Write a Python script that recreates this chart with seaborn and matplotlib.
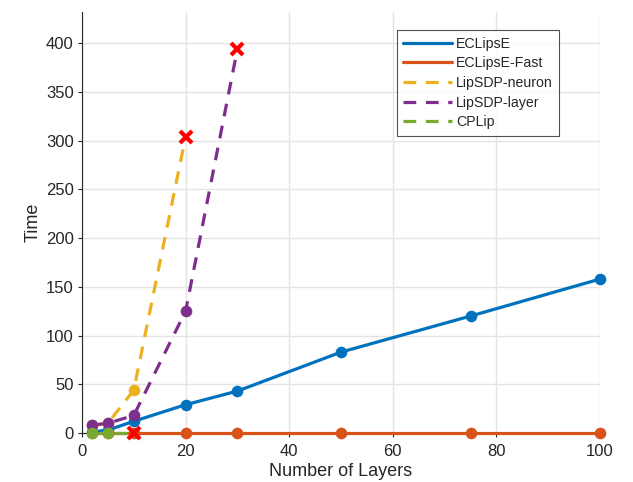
import numpy as np
import pandas as pd
import matplotlib
matplotlib.use("Agg")
import matplotlib.pyplot as plt
import seaborn as sns

# ---- data ----
x_eclipse = [2, 5, 10, 20, 30, 50, 75, 100]
y_eclipse = [1, 3, 12, 29, 43, 83, 120, 158]

x_fast = [2, 5, 10, 20, 30, 50, 75, 100]
y_fast = [0, 0, 0, 0, 0, 0, 0, 0]

x_neuron = [2, 5, 10, 20]
y_neuron = [8, 10, 44, 304]

x_layer = [2, 5, 10, 20, 30]
y_layer = [8, 10, 18, 125, 394]

x_cplip = [2, 5, 10]
y_cplip = [0, 0, 0]

# name, x, y, colour, dashed?, last point is a timeout (red cross)?
series = [
    ("ECLipsE", x_eclipse, y_eclipse, "#0072BD", False, False),
    ("ECLipsE-Fast", x_fast, y_fast, "#D95319", False, False),
    ("LipSDP-neuron", x_neuron, y_neuron, "#EDB120", True, True),
    ("LipSDP-layer", x_layer, y_layer, "#7E2F8E", True, True),
    ("CPLip", x_cplip, y_cplip, "#77AC30", True, True),
]

sns.set_theme(style="whitegrid", rc={"xtick.bottom": True, "ytick.left": True,
                                     "xtick.major.size": 3, "ytick.major.size": 3})
plt.rcParams['font.family'] = ['Liberation Sans', 'DejaVu Sans']

fig = plt.figure(figsize=(6.33, 4.82), dpi=100)
ax = fig.add_axes([0.1295, 0.1017, 0.8185, 0.8733])

for name, xs, ys, col, dashed, timeout in series:
    df = pd.DataFrame({"x": xs, "y": ys})
    sns.lineplot(data=df, x="x", y="y", ax=ax, color=col, lw=2.3,
                 label=name, clip_on=False, zorder=3)
    line = ax.lines[-1]
    if dashed:
        line.set_dashes((4, 3))
    pts = df.iloc[:-1] if timeout else df
    sns.scatterplot(data=pts, x="x", y="y", ax=ax, color=col, s=70,
                    edgecolor=col, linewidth=0, clip_on=False, zorder=4,
                    legend=False)
    if timeout:
        ax.plot(xs[-1], ys[-1], marker="x", color="red", ms=9, mew=3,
                clip_on=False, zorder=6, linestyle="none")

ax.set_xlim(0, 100)
ax.set_ylim(0, 432)
ax.set_xticks(np.arange(0, 101, 20))
ax.set_yticks(np.arange(0, 401, 50))
ax.set_xlabel("Number of Layers", fontsize=13, color="#262626", labelpad=3)
ax.set_ylabel("Time", fontsize=13, color="#262626", labelpad=3)
ax.tick_params(axis="both", labelsize=12, colors="#262626", direction="out",
               length=3, width=0.8, bottom=True, left=True)
ax.tick_params(axis="x", pad=5)
ax.tick_params(axis="y", pad=3)

ax.set_facecolor("white")
ax.grid(True, color="#e4e4e4", lw=1)
for s in ["top", "right"]:
    ax.spines[s].set_visible(False)
for s in ["left", "bottom"]:
    ax.spines[s].set_color("#262626")
    ax.spines[s].set_linewidth(0.8)

leg = ax.legend(loc="upper left", bbox_to_anchor=(0.608, 0.957),
                borderaxespad=0, fontsize=10.2, handlelength=3.4,
                frameon=True, fancybox=False, borderpad=0.45,
                labelspacing=0.4, handletextpad=0.3)
leg.get_frame().set_edgecolor("#262626")
leg.get_frame().set_linewidth(0.8)

fig.savefig("out.png", dpi=100)
